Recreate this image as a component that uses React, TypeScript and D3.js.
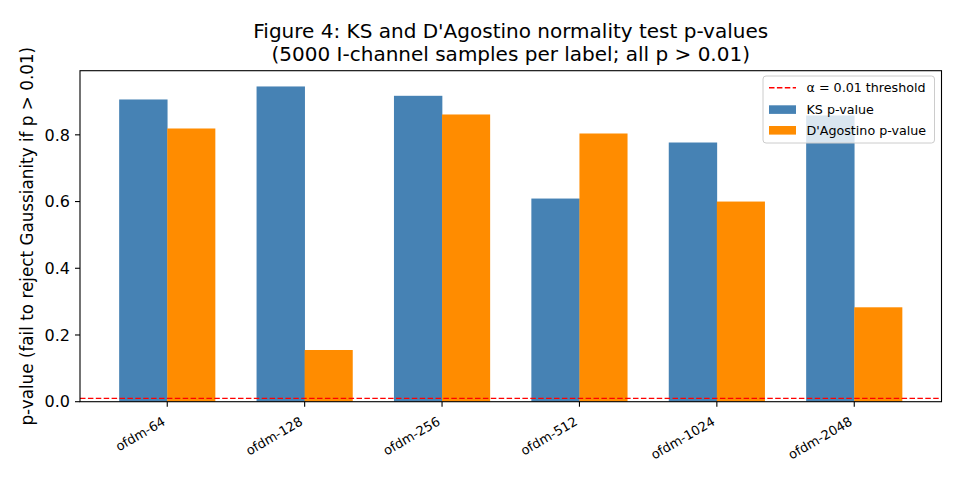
import React from "react";
import * as d3 from "d3";

const categories = ["ofdm-64", "ofdm-128", "ofdm-256", "ofdm-512", "ofdm-1024", "ofdm-2048"];
const ksValues = [0.906, 0.945, 0.917, 0.609, 0.777, 0.858];
const dagValues = [0.819, 0.155, 0.861, 0.804, 0.600, 0.283];
const yTicks = [0.0, 0.2, 0.4, 0.6, 0.8];
const threshold = 0.01;

const W = 960, H = 480;
const left = 80, right = 941.5, top = 70.7, bottom = 401.7;
const barW = 0.35;
const font = "DejaVu Sans, sans-serif";
const dash = "5.5,2.4";

export default function App() {
  const n = categories.length;
  const x = d3.scaleLinear().domain([-0.35 - 0.285, n - 1 + 0.35 + 0.285]).range([left, right]);
  const ymax = d3.max([...ksValues, ...dagValues])! * 1.05;
  const y = d3.scaleLinear().domain([0, ymax]).range([bottom, top]);
  const bw = x(barW) - x(0);
  const lx = 763, ly = 76, lw = 171.5, lh = 67;
  const tx = lx + 43.5;
  return (
    <svg width={W} height={H} style={{ position: "absolute", left: 0, top: 0 }} fontFamily={font}>
      <rect width={W} height={H} fill="white" />
      {categories.map((c, i) => (
        <g key={c}>
          <rect x={x(i - barW)} y={y(ksValues[i])} width={bw + 0.3} height={bottom - y(ksValues[i])} fill="#4682b4" />
          <rect x={x(i)} y={y(dagValues[i])} width={bw} height={bottom - y(dagValues[i])} fill="#ff8c00" />
        </g>
      ))}
      <line x1={left} x2={right} y1={y(threshold)} y2={y(threshold)} stroke="#ff0000" strokeWidth={1.4} strokeDasharray={dash} />
      <rect x={left} y={top} width={right - left} height={bottom - top} fill="none" stroke="black" strokeWidth={1.1} />
      {yTicks.map((t) => (
        <g key={t}>
          <line x1={left - 5} x2={left} y1={y(t)} y2={y(t)} stroke="black" strokeWidth={1.1} />
          <text x={left - 10} y={y(t)} dy="0.36em" textAnchor="end" fontSize={16}>{t.toFixed(1)}</text>
        </g>
      ))}
      {categories.map((c, i) => (
        <g key={c}>
          <line x1={x(i)} x2={x(i)} y1={bottom} y2={bottom + 5} stroke="black" strokeWidth={1.1} />
          <text transform={`translate(${x(i) - 1},${bottom + 22.5}) rotate(-30)`} textAnchor="end" fontSize={13}>{c}</text>
        </g>
      ))}
      <text transform={`translate(27,${(top + bottom) / 2}) rotate(-90)`} textAnchor="middle" dy="0.36em" fontSize={16.8}>
        p-value (fail to reject Gaussianity if p &gt; 0.01)
      </text>
      <text x={(left + right) / 2} y={37.5} textAnchor="middle" fontSize={20}>Figure 4: KS and D'Agostino normality test p-values</text>
      <text x={(left + right) / 2} y={60.5} textAnchor="middle" fontSize={20}>(5000 I-channel samples per label; all p &gt; 0.01)</text>
      <g>
        <rect x={lx} y={ly} width={lw} height={lh} rx={3} fill="white" fillOpacity={0.8} stroke="#cccccc" strokeWidth={1} />
        <line x1={lx + 6} x2={lx + 33} y1={ly + 11.7} y2={ly + 11.7} stroke="#ff0000" strokeWidth={1.4} strokeDasharray={dash} />
        <text x={tx} y={ly + 11.7} dy="0.36em" fontSize={12.7}>α = 0.01 threshold</text>
        <rect x={lx + 6} y={ly + 29.3} width={27} height={8.6} fill="#4682b4" />
        <text x={tx} y={ly + 33.3} dy="0.36em" fontSize={12.7}>KS p-value</text>
        <rect x={lx + 6} y={ly + 50} width={27} height={8.6} fill="#ff8c00" />
        <text x={tx} y={ly + 54.3} dy="0.36em" fontSize={12.7}>D'Agostino p-value</text>
      </g>
    </svg>
  );
}
